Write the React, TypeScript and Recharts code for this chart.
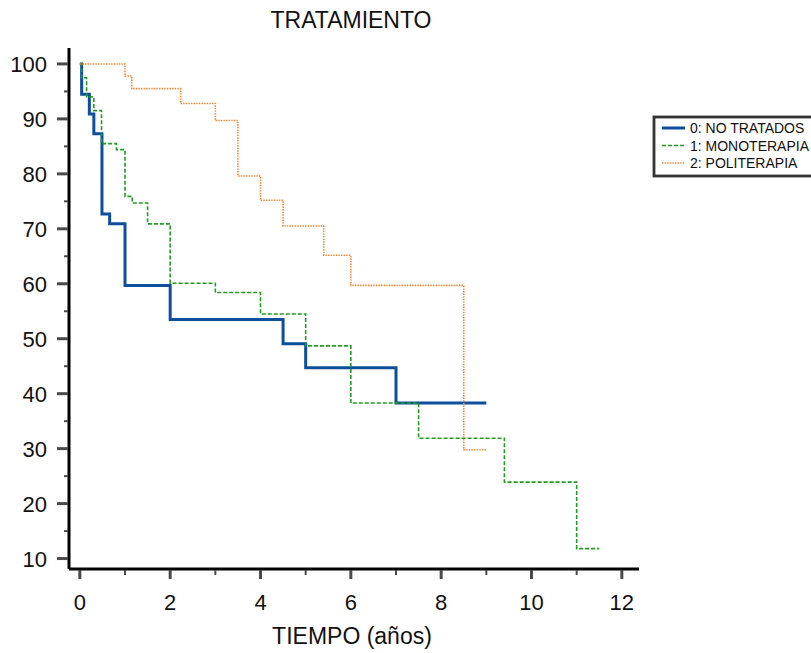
import { Line, LineChart, XAxis, YAxis } from "recharts";

const FONT = '"Liberation Sans", Arial, Helvetica, sans-serif';

// 0: NO TRATADOS
const noTratadosTiempo = [0, 0.04, 0.21, 0.31, 0.49, 0.66, 1.0, 2.0, 4.5, 5.0, 7.0, 9.0];
const noTratadosSuperv = [100, 94.5, 90.9, 87.3, 72.7, 70.9, 59.7, 53.5, 49.1, 44.7, 38.3, 38.3];

// 1: MONOTERAPIA
const monoTiempo = [0, 0.04, 0.15, 0.31, 0.48, 0.81, 1.0, 1.16, 1.5, 2.0, 3.0, 4.0, 5.0, 6.0, 7.5, 9.4, 11.0, 11.5];
const monoSuperv = [100, 97.5, 94.0, 91.5, 85.5, 84.4, 75.9, 74.7, 70.9, 60.1, 58.4, 54.5, 48.7, 38.3, 31.9, 23.9, 11.8, 11.8];

// 2: POLITERAPIA
const poliTiempo = [0, 1.0, 1.15, 2.23, 3.0, 3.5, 4.0, 4.5, 5.4, 6.0, 8.5, 9.0];
const poliSuperv = [100, 97.8, 95.5, 92.8, 89.7, 79.6, 75.2, 70.5, 65.2, 59.7, 29.8, 29.8];

const xTicks = [0, 1, 2, 3, 4, 5, 6, 7, 8, 9, 10, 11, 12];
const yTicks = [10, 15, 20, 25, 30, 35, 40, 45, 50, 55, 60, 65, 70, 75, 80, 85, 90, 95, 100];

const toPoints = (t: number[], s: number[]) => t.map((x, i) => ({ t: x, s: s[i] }));

const SERIES = [
  { name: "0: NO TRATADOS", data: toPoints(noTratadosTiempo, noTratadosSuperv), color: "#0d4f9c", width: 3, dash: undefined as string | undefined },
  { name: "1: MONOTERAPIA", data: toPoints(monoTiempo, monoSuperv), color: "#1f9e1f", width: 1.6, dash: "4 2" },
  { name: "2: POLITERAPIA", data: toPoints(poliTiempo, poliSuperv), color: "#f7832f", width: 1.6, dash: "1.4 1.2" },
];

const TICK_COLOR = "#4a4a4a";

function XTick({ x, y, payload }: { x?: number; y?: number; payload?: { value: number } }) {
  const v = payload?.value ?? 0;
  const major = v % 2 === 0;
  return (
    <g>
      <line x1={x} x2={x} y1={(y ?? 0) + 1} y2={(y ?? 0) + (major ? 10 : 6)} stroke={TICK_COLOR} strokeWidth={major ? 3 : 2} />
      {major && (
        <text x={x} y={(y ?? 0) + 41} textAnchor="middle" fontSize={22} fill="#111" fontFamily={FONT}>
          {v}
        </text>
      )}
    </g>
  );
}

function YTick({ x, y, payload }: { x?: number; y?: number; payload?: { value: number } }) {
  const v = payload?.value ?? 0;
  const major = v % 10 === 0;
  return (
    <g>
      <line x1={(x ?? 0) - (major ? 12 : 5)} x2={(x ?? 0) - 1} y1={y} y2={y} stroke={TICK_COLOR} strokeWidth={major ? 3 : 2} />
      {major && (
        <text x={(x ?? 0) - 22} y={(y ?? 0) + 8} textAnchor="end" fontSize={22} fill="#111" fontFamily={FONT}>
          {v}
        </text>
      )}
    </g>
  );
}

export default function App() {
  return (
    <div style={{ position: "fixed", left: 0, top: 0, width: 811, height: 653, overflow: "hidden", background: "#fff" }}>
      <LineChart width={811} height={653} margin={{ top: 48, right: 172, bottom: 0, left: 0 }}>
        <XAxis
          type="number"
          dataKey="t"
          domain={[-0.24, 12.38]}
          ticks={xTicks}
          allowDataOverflow
          height={84}
          tickSize={0}
          tickMargin={0}
          tickLine={false}
          axisLine={{ stroke: "#000", strokeWidth: 3 }}
          tick={<XTick />}
          interval={0}
        />
        <YAxis
          type="number"
          dataKey="s"
          domain={[8.1, 102.9]}
          ticks={yTicks}
          allowDataOverflow
          width={69}
          tickSize={0}
          tickMargin={0}
          tickLine={false}
          axisLine={{ stroke: "#000", strokeWidth: 3 }}
          tick={<YTick />}
          interval={0}
        />
        {SERIES.map((s) => (
          <Line
            key={s.name}
            data={s.data}
            dataKey="s"
            name={s.name}
            type="stepAfter"
            stroke={s.color}
            strokeWidth={s.width}
            strokeDasharray={s.dash}
            dot={false}
            activeDot={false}
            isAnimationActive={false}
          />
        ))}
        <text x={351} y={28} textAnchor="middle" fontSize={23} fill="#111" fontFamily={FONT}>
          TRATAMIENTO
        </text>
        <text x={352} y={644} textAnchor="middle" fontSize={23} fill="#111" fontFamily={FONT}>
          TIEMPO (años)
        </text>
        <g>
          <rect x={654} y={117} width={170} height={59} fill="#fff" stroke="#333" strokeWidth={2.8} />
          {SERIES.map((s, i) => {
            const cy = 128 + i * 17.5;
            return (
              <g key={s.name}>
                <line x1={662} x2={685} y1={cy} y2={cy} stroke={s.color} strokeWidth={s.width} strokeDasharray={s.dash} />
                <text x={690} y={cy + 5} fontSize={14} fill="#111" fontFamily={FONT}>
                  {s.name}
                </text>
              </g>
            );
          })}
        </g>
      </LineChart>
    </div>
  );
}
